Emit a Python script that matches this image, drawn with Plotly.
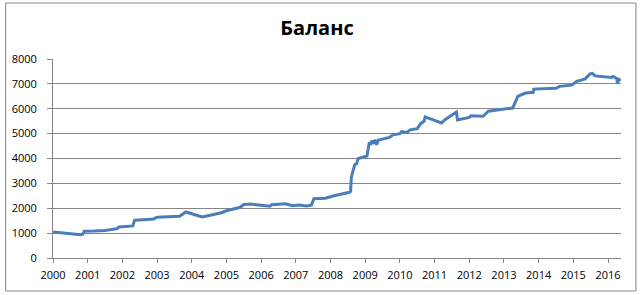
import plotly.graph_objects as go

years = [2000.00, 2000.30, 2000.60, 2000.80, 2000.86, 2000.90, 2001.20, 2001.50, 2001.85, 2001.90,
         2002.30, 2002.35, 2002.60, 2002.90, 2003.00, 2003.30, 2003.65, 2003.83, 2004.00, 2004.30,
         2004.60, 2004.85, 2005.00, 2005.25, 2005.40, 2005.50, 2005.70, 2006.00, 2006.25, 2006.30,
         2006.70, 2006.90, 2007.10, 2007.30, 2007.45, 2007.52, 2007.85, 2008.10, 2008.30, 2008.55,
         2008.58, 2008.60, 2008.66, 2008.70, 2008.75, 2008.80, 2009.05, 2009.12, 2009.16, 2009.20,
         2009.25, 2009.28, 2009.33, 2009.38, 2009.50, 2009.70, 2009.80, 2010.00, 2010.05, 2010.20,
         2010.30, 2010.50, 2010.60, 2010.70, 2010.73, 2011.00, 2011.20, 2011.30, 2011.63, 2011.66,
         2012.00, 2012.05, 2012.40, 2012.55, 2013.00, 2013.25, 2013.40, 2013.60, 2013.75, 2013.84,
         2013.86, 2014.50, 2014.60, 2014.95, 2015.10, 2015.34, 2015.48, 2015.55, 2015.63, 2016.10,
         2016.15, 2016.25, 2016.27, 2016.32, 2016.37]
balance = [1050, 1000, 960, 940, 960, 1080, 1090, 1110, 1180, 1250,
           1290, 1520, 1540, 1570, 1640, 1660, 1680, 1850, 1780, 1650,
           1740, 1820, 1900, 1990, 2040, 2150, 2170, 2120, 2080, 2140,
           2180, 2100, 2130, 2090, 2120, 2380, 2400, 2500, 2560, 2640,
           2680, 3250, 3550, 3750, 3800, 4000, 4100, 4650, 4550, 4720,
           4600, 4750, 4550, 4740, 4780, 4850, 4950, 5000, 5080, 5050,
           5150, 5200, 5400, 5500, 5670, 5550, 5430, 5560, 5870, 5550,
           5650, 5720, 5700, 5900, 5970, 6030, 6500, 6620, 6650, 6650,
           6790, 6820, 6900, 6950, 7100, 7200, 7400, 7420, 7320, 7260,
           7300, 7220, 7030, 7180, 7130]
x_ticks = list(range(2000, 2017))
y_ticks = list(range(0, 8001, 1000))

fig = go.Figure()
fig.add_trace(go.Scatter(x=years, y=balance, mode="lines",
                         line=dict(color="#4A7EBB", width=3), hoverinfo="x+y"))

grid = "#868686"
L, R, T, B = 51, 20, 59, 37
W, H = 641, 295
pw, ph = W - L - R, H - T - B

fig.update_layout(
    width=W, height=H,
    margin=dict(l=L, r=R, t=T, b=B),
    paper_bgcolor="white", plot_bgcolor="white",
    showlegend=False,
    font=dict(family="Open Sans", size=11, color="#000000"),
    title=dict(text="<b>Баланс</b>", x=317 / W, xref="container", xanchor="center",
               y=1 - 28 / H, yref="container", yanchor="middle",
               font=dict(family="Open Sans", size=20, color="#000000")),
    xaxis=dict(range=[2000, 2000 + pw / 34.81], tickvals=x_ticks,
               ticktext=[str(v) for v in x_ticks],
               showgrid=False, zeroline=False, showline=True, linecolor=grid, linewidth=1,
               ticks="outside", ticklen=4, tickcolor=grid, tickwidth=1,
               ticklabelstandoff=3),
    yaxis=dict(range=[0, 8000], tickvals=y_ticks, ticktext=[str(v) for v in y_ticks],
               showgrid=True, gridcolor=grid, gridwidth=1, zeroline=False,
               showline=True, linecolor=grid, linewidth=1,
               ticks="outside", ticklen=5, tickcolor=grid, tickwidth=1,
               ticklabelstandoff=8),
    shapes=[dict(type="rect", xref="paper", yref="paper",
                 x0=(3.5 - L) / pw, x1=(636 - L) / pw,
                 y0=(H - B - 291) / ph, y1=(H - B - 3) / ph,
                 line=dict(color=grid, width=1), fillcolor="rgba(0,0,0,0)", layer="below")],
)

fig.write_html("out.html")
